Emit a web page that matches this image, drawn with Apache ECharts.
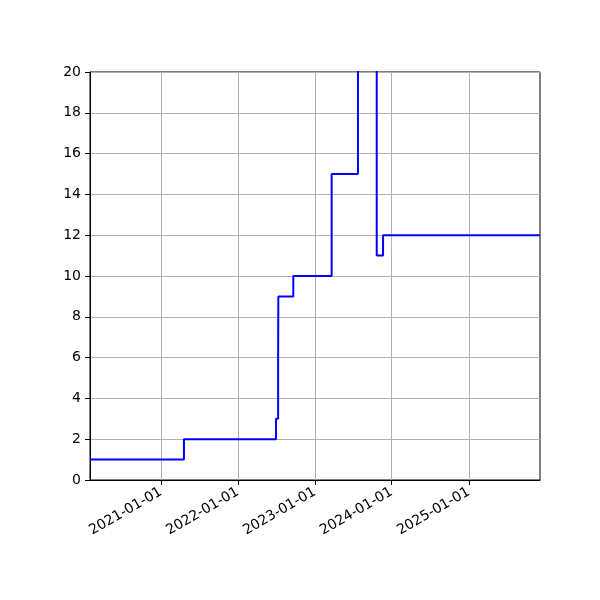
<!DOCTYPE html>
<html>
<head>
<meta charset="utf-8">
<script src="https://cdn.jsdelivr.net/npm/echarts@6/dist/echarts.min.js"></script>
<style>
html, body { margin: 0; padding: 0; background: #fff; }
#chart { width: 600px; height: 600px; }
</style>
</head>
<body>
<div id="chart"></div>
<script>
// step points: value holds from date until the next date
var dates = ['2020-01-30', '2021-04-20', '2022-07-01', '2022-07-11', '2022-07-12', '2022-09-21',
             '2023-03-22', '2023-07-25', '2023-10-22', '2023-11-21', '2025-12-05'];
var values = [1, 2, 3, 6, 9, 10, 15, 25, 11, 12, 12];
var xTicks = ['2021-01-01', '2022-01-01', '2023-01-01', '2024-01-01', '2025-01-01'];
var yTicks = [0, 2, 4, 6, 8, 10, 12, 14, 16, 18, 20];

function ts(s) { return new Date(s + 'T00:00:00Z').getTime(); }
function pad(n) { return (n < 10 ? '0' : '') + n; }

var seriesData = [];
for (var i = 0; i < dates.length; i++) {
  seriesData.push([ts(dates[i]), values[i]]);
}
var tickValues = xTicks.map(ts);

var myChart = echarts.init(document.getElementById('chart'));

var option = {
  animation: false,
  textStyle: { fontFamily: 'DejaVu Sans' },
  grid: {
    left: 90, right: 60, top: 72, bottom: 120,
    show: true, borderColor: '#000', borderWidth: 1
  },
  xAxis: {
    type: 'value',
    min: ts(dates[0]),
    max: ts(dates[dates.length - 1]),
    axisLine: { show: true, lineStyle: { color: '#000', width: 1 } },
    axisTick: { show: true, length: 5, lineStyle: { color: '#000' }, customValues: tickValues },
    axisLabel: {
      customValues: tickValues,
      rotate: 30,
      fontSize: 14,
      color: '#000',
      margin: 11,
      formatter: function (v) {
        var d = new Date(v);
        return d.getUTCFullYear() + '-' + pad(d.getUTCMonth() + 1) + '-' + pad(d.getUTCDate());
      }
    },
    splitLine: { show: true, lineStyle: { color: '#b0b0b0', width: 1 } }
  },
  yAxis: {
    type: 'value',
    min: yTicks[0],
    max: yTicks[yTicks.length - 1],
    interval: 2,
    axisLine: { show: true, lineStyle: { color: '#000', width: 1 } },
    axisTick: { show: true, length: 5, lineStyle: { color: '#000' } },
    axisLabel: { fontSize: 14, color: '#000', margin: 9 },
    splitLine: { show: true, lineStyle: { color: '#b0b0b0', width: 1 } }
  },
  series: [{
    type: 'line',
    step: 'end',
    data: seriesData,
    showSymbol: false,
    clip: true,
    lineStyle: { color: '#0000ff', width: 2 }
  }]
};

myChart.setOption(option);
</script>
</body>
</html>
